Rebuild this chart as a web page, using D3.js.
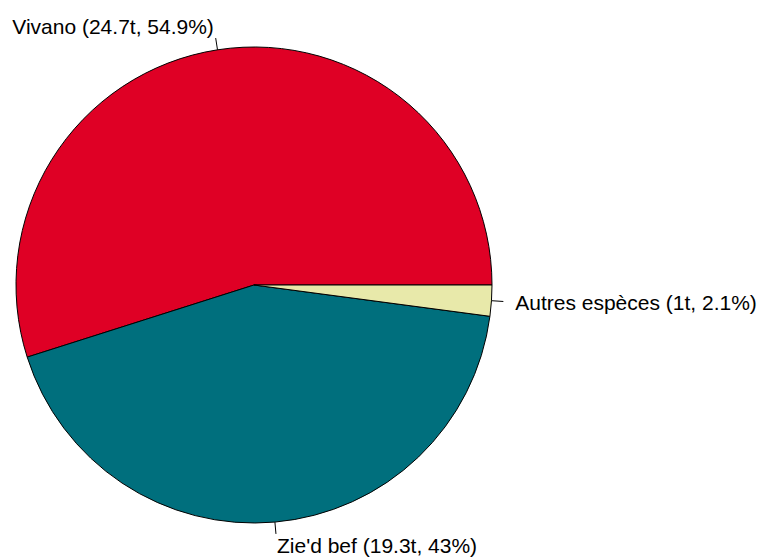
<!DOCTYPE html>
<html><head><meta charset="utf-8">
<script src="https://cdn.jsdelivr.net/npm/d3@7"></script>
<style>body{margin:0;background:#fff}svg{display:block}</style>
</head><body>
<svg id="c" width="763" height="560"></svg>
<script>
const labels = ["Vivano (24.7t, 54.9%)", "Zie'd bef (19.3t, 43%)", "Autres espèces (1t, 2.1%)"];
const values = [54.9, 43, 2.1];
const colors = ["#DF0025", "#006F7D", "#E8E9AA"];

const cx = 254, cy = 285, r = 238;
const svg = d3.select("#c");
const g = svg.append("g").attr("transform", `translate(${cx},${cy})`);

const pie = d3.pie().sort(null).startAngle(Math.PI / 2).endAngle(Math.PI / 2 - 2 * Math.PI);
const arcs = pie(values);
const arc = d3.arc().innerRadius(0).outerRadius(r);

g.selectAll("path.slice").data(arcs).join("path")
  .attr("class", "slice")
  .attr("d", arc)
  .attr("fill", (d, i) => colors[i])
  .attr("stroke", "#000")
  .attr("stroke-width", 1);

const pt = (a, k) => [k * r * Math.sin(a), -k * r * Math.cos(a)];

arcs.forEach((d, i) => {
  const a = (d.startAngle + d.endAngle) / 2;
  const p1 = pt(a, 1), p2 = pt(a, 1.05), p3 = pt(a, 1.1);
  g.append("line").attr("x1", p1[0]).attr("y1", p1[1]).attr("x2", p2[0]).attr("y2", p2[1])
    .attr("stroke", "#000").attr("stroke-width", 1);
  g.append("text").attr("x", p3[0]).attr("y", p3[1]).attr("dy", "0.35em")
    .attr("text-anchor", p3[0] < 0 ? "end" : "start")
    .attr("font-family", "Liberation Sans, Arial, sans-serif")
    .attr("font-size", 21)
    .attr("fill", "#000")
    .text(labels[i]);
});
</script>
</body></html>
